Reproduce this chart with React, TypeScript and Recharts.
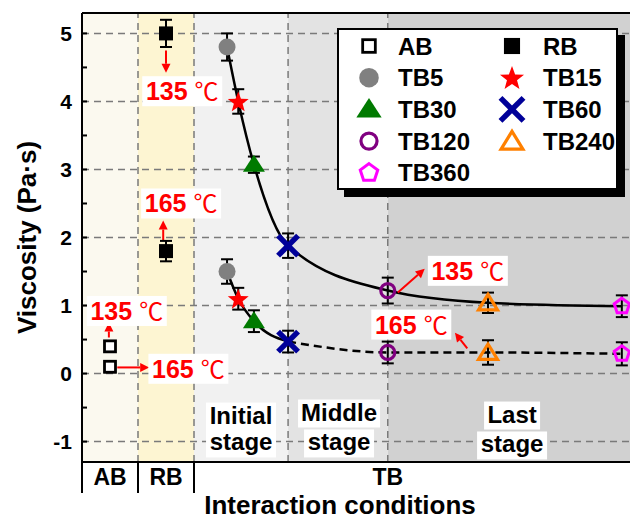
import {
  ComposedChart,
  ErrorBar,
  Line,
  ReferenceArea,
  ReferenceDot,
  ReferenceLine,
  Scatter,
  XAxis,
  YAxis,
} from "recharts";

const FONT = "Arial, 'Liberation Sans', Helvetica, sans-serif";
const CJK = "'Noto Sans CJK SC', 'DejaVu Sans', sans-serif";

// binder groups and where they sit along the interaction axis
const groups = ["AB", "RB", "TB5", "TB15", "TB30", "TB60", "TB120", "TB240", "TB360"];
const groupX = [0.5, 1.5, 2.59, 2.79, 3.07, 3.68, 5.46, 7.25, 9.64];

// viscosity (Pa·s) at 135 ℃ and 165 ℃ with standard deviations
const visc135 = [0.4, 5.0, 4.8, 4.0, 3.07, 1.88, 1.22, 1.04, 0.99];
const err135 = [0.05, 0.2, 0.2, 0.18, 0.12, 0.18, 0.19, 0.15, 0.16];
const visc165 = [0.1, 1.8, 1.5, 1.1, 0.77, 0.47, 0.31, 0.31, 0.29];
const err165 = [0.08, 0.15, 0.18, 0.16, 0.16, 0.16, 0.16, 0.18, 0.17];

const yTicks = [-1, -0.5, 0, 0.5, 1, 1.5, 2, 2.5, 3, 3.5, 4, 4.5, 5];
const yGrid = [-1, 0, 1, 2, 3, 4, 5];
const Y_MIN = -1.3;
const Y_MAX = 5.3;
const X_MAX = 10;

// bottom axis: AB | RB | TB blocks
const blockEdges = [0, 1, 2];
const blockLabels = ["AB", "RB", "TB"];
const blockLabelX = [0.5, 1.5, groupX[6]];

// TB stages split at TB60 and TB120
const stageEdges = [groupX[5], groupX[6]];

const COLORS: Record<string, string> = {
  AB: "#000",
  RB: "#000",
  TB5: "#808080",
  TB15: "#ff0000",
  TB30: "#007a00",
  TB60: "#000099",
  TB120: "#800080",
  TB240: "#ff8000",
  TB360: "#ff00ff",
};

const bands = [
  { x1: 0, x2: 1, fill: "#fbf9ef" },
  { x1: 1, x2: 2, fill: "#fdf5d2" },
  { x1: 2, x2: stageEdges[0], fill: "#f1f1f1" },
  { x1: stageEdges[0], x2: stageEdges[1], fill: "#e3e3e3" },
  { x1: stageEdges[1], x2: X_MAX, fill: "#d1d1d1" },
];

// temperature call-outs: tag centre and arrow in data units
const tags = [
  { temp: "135", tx: 1.79, ty: 4.15, from: [1.5, 4.75], to: [1.5, 4.42] },
  { temp: "165", tx: 1.77, ty: 2.5, from: [1.45, 1.96], to: [1.45, 2.25] },
  { temp: "135", tx: 0.8, ty: 0.92, from: [0.48, 0.53], to: [0.48, 0.75] },
  { temp: "165", tx: 1.9, ty: 0.07, from: [0.63, 0.09], to: [1.2, 0.09] },
  { temp: "135", tx: 6.89, ty: 1.51, from: [5.64, 1.19], to: [6.12, 1.54] },
  { temp: "165", tx: 5.88, ty: 0.72, from: [6.88, 0.37], to: [6.66, 0.6] },
];

const stageWords = [
  { text: "Initial", x: 2.84, y: -0.735, w: 70 },
  { text: "stage", x: 2.84, y: -1.13, w: 70 },
  { text: "Middle", x: 4.59, y: -0.69, w: 82 },
  { text: "stage", x: 4.59, y: -1.13, w: 70 },
  { text: "Last", x: 7.68, y: -0.72, w: 56 },
  { text: "stage", x: 7.68, y: -1.16, w: 70 },
];

function starPoints(cx: number, cy: number, ro: number, ri: number) {
  const pts: string[] = [];
  for (let i = 0; i < 10; i++) {
    const r = i % 2 === 0 ? ro : ri;
    const a = -Math.PI / 2 + (i * Math.PI) / 5;
    pts.push(`${cx + r * Math.cos(a)},${cy + r * Math.sin(a)}`);
  }
  return pts.join(" ");
}

function polyPoints(cx: number, cy: number, r: number, n: number) {
  const pts: string[] = [];
  for (let i = 0; i < n; i++) {
    const a = -Math.PI / 2 + (i * 2 * Math.PI) / n;
    pts.push(`${cx + r * Math.cos(a)},${cy + r * Math.sin(a)}`);
  }
  return pts.join(" ");
}

function Glyph({ kind, cx, cy, s = 1 }: { kind: string; cx: number; cy: number; s?: number }) {
  const c = COLORS[kind];
  switch (kind) {
    case "AB":
      return (
        <rect x={cx - 5.5 * s} y={cy - 5.5 * s} width={11 * s} height={11 * s}
          fill="#fff" stroke={c} strokeWidth={2.8} />
      );
    case "RB":
      return <rect x={cx - 7 * s} y={cy - 7 * s} width={14 * s} height={14 * s} fill={c} />;
    case "TB5":
      return <circle cx={cx} cy={cy} r={8.5 * s} fill={c} />;
    case "TB15":
      return <polygon points={starPoints(cx, cy + 1, 11 * s, 4.6 * s)} fill={c} />;
    case "TB30":
      return (
        <polygon
          points={`${cx},${cy - 10 * s} ${cx + 11 * s},${cy + 7 * s} ${cx - 11 * s},${cy + 7 * s}`}
          fill={c}
        />
      );
    case "TB60":
      return (
        <g stroke={c} strokeWidth={5.5}>
          <line x1={cx - 10 * s} y1={cy - 10 * s} x2={cx + 10 * s} y2={cy + 10 * s} />
          <line x1={cx - 10 * s} y1={cy + 10 * s} x2={cx + 10 * s} y2={cy - 10 * s} />
        </g>
      );
    case "TB120":
      return <circle cx={cx} cy={cy} r={7 * s} fill="none" stroke={c} strokeWidth={3.2} />;
    case "TB240":
      return (
        <polygon
          points={`${cx},${cy - 8.5 * s} ${cx + 9.5 * s},${cy + 7 * s} ${cx - 9.5 * s},${cy + 7 * s}`}
          fill="none" stroke={c} strokeWidth={3.2}
        />
      );
    case "TB360":
      return <polygon points={polyPoints(cx, cy, 8 * s, 5)} fill="none" stroke={c} strokeWidth={3} />;
    default:
      return null;
  }
}

function Arrow(props: any) {
  const { x1, y1, x2, y2 } = props;
  const ang = Math.atan2(y2 - y1, x2 - x1);
  const len = 9;
  const half = 4.5;
  const bx = x2 - len * Math.cos(ang);
  const by = y2 - len * Math.sin(ang);
  const px = -Math.sin(ang) * half;
  const py = Math.cos(ang) * half;
  return (
    <g>
      <line x1={x1} y1={y1} x2={bx} y2={by} stroke="#ff0000" strokeWidth={2} />
      <polygon points={`${x2},${y2} ${bx + px},${by + py} ${bx - px},${by - py}`} fill="#ff0000" />
    </g>
  );
}

function TempTag({ cx, cy, temp }: { cx: number; cy: number; temp: string }) {
  return (
    <g>
      <rect x={cx - 40} y={cy - 15} width={80} height={30} fill="#fff" />
      <text x={cx} y={cy + 9} textAnchor="middle" fill="#ff0000">
        <tspan fontFamily={FONT} fontWeight="bold" fontSize={25}>{temp}</tspan>
        <tspan fontFamily={CJK} fontSize={24} dx={7}>℃</tspan>
      </text>
    </g>
  );
}

function StageWord({ cx, cy, text, w }: { cx: number; cy: number; text: string; w: number }) {
  return (
    <g>
      <rect x={cx - w / 2} y={cy - 21} width={w} height={28} fill="#fff" />
      <text x={cx} y={cy} textAnchor="middle" fontFamily={FONT} fontWeight="bold" fontSize={24} fill="#000">
        {text}
      </text>
    </g>
  );
}

function YTick(props: any) {
  const { x, y, payload } = props;
  const axisX = x + 10;
  const major = Number.isInteger(payload.value);
  return (
    <g>
      <line x1={axisX} y1={y} x2={axisX + 5} y2={y} stroke="#000" strokeWidth={2} />
      {major && (
        <text x={x} y={y + 7.5} textAnchor="end" fontFamily={FONT} fontWeight="bold" fontSize={21} fill="#000">
          {payload.value}
        </text>
      )}
    </g>
  );
}

function XTick(props: any) {
  const { x, y, payload } = props;
  const v = payload.value;
  if (blockEdges.includes(v)) {
    return <line x1={x} y1={y} x2={x} y2={y + 31} stroke="#000" strokeWidth={2} />;
  }
  const i = blockLabelX.findIndex((bx) => Math.abs(bx - v) < 1e-6);
  return (
    <text x={x} y={y + 23} textAnchor="middle" fontFamily={FONT} fontWeight="bold" fontSize={23} fill="#000">
      {blockLabels[i]}
    </text>
  );
}

function Legend() {
  const rows: string[][] = [];
  for (let i = 0; i < groups.length; i += 2) rows.push(groups.slice(i, i + 2));
  return (
    <svg width={300} height={180} style={{ position: "absolute", left: 337, top: 28 }}>
      <rect x={7} y={7} width={281} height={162} fill="#000" />
      <rect x={1} y={1} width={279} height={160} fill="#fff" stroke="#000" strokeWidth={2} />
      {rows.map((row, r) =>
        row.map((g, c) => {
          const cy = 18 + r * 31.7;
          return (
            <g key={g}>
              <Glyph kind={g} cx={32 + c * 143} cy={cy} s={1.15} />
              <text x={61 + c * 145} y={cy + 8.5} fontFamily={FONT} fontWeight="bold" fontSize={24} fill="#000">
                {g}
              </text>
            </g>
          );
        })
      )}
    </svg>
  );
}

export default function App() {
  const upper = groupX.slice(2).map((x, k) => ({ x, y: visc135[k + 2] }));
  const lowerEarly = groupX.slice(2, 6).map((x, k) => ({ x, y: visc165[k + 2] }));
  const lowerLate = groupX.slice(5).map((x, k) => ({ x, y: visc165[k + 5] }));

  return (
    <div
      style={{
        position: "fixed",
        left: 0,
        top: 0,
        width: 630,
        height: 520,
        overflow: "hidden",
        background: "#fff",
      }}
    >
      <ComposedChart width={650} height={520} margin={{ top: 13, right: 8, bottom: 0, left: 0 }}>
        {bands.map((b) => (
          <ReferenceArea key={b.x1} x1={b.x1} x2={b.x2} y1={Y_MIN} y2={Y_MAX} fill={b.fill} fillOpacity={1} stroke="none" />
        ))}
        {yGrid.map((v) => (
          <ReferenceLine key={`gy${v}`} y={v} stroke="#7a7a7a" strokeWidth={1.5} strokeDasharray="7 5" />
        ))}
        {[1, 2, ...stageEdges].map((v) => (
          <ReferenceLine key={`gx${v}`} x={v} stroke="#7a7a7a" strokeWidth={1.5} strokeDasharray="7 5" />
        ))}
        <ReferenceLine y={Y_MAX} stroke="#000" strokeWidth={2} />

        <XAxis
          type="number"
          dataKey="x"
          domain={[0, X_MAX]}
          ticks={[0, 0.5, 1, 1.5, 2, groupX[6]]}
          interval={0}
          allowDataOverflow
          height={58}
          axisLine={{ stroke: "#000", strokeWidth: 2 }}
          tickLine={false}
          tickSize={0}
          tickMargin={0}
          tick={XTick}
          label={{
            content: (p: any) => (
              <text x={p.viewBox.x + 258} y={p.viewBox.y + 52} textAnchor="middle"
                fontFamily={FONT} fontWeight="bold" fontSize={26} fill="#000">
                Interaction conditions
              </text>
            ),
          }}
        />
        <YAxis
          type="number"
          dataKey="y"
          domain={[Y_MIN, Y_MAX]}
          ticks={yTicks}
          interval={0}
          allowDataOverflow
          width={82}
          axisLine={{ stroke: "#000", strokeWidth: 2 }}
          tickLine={false}
          tickSize={5}
          tickMargin={5}
          tick={YTick}
          label={{
            content: (p: any) => {
              const tx = p.viewBox.x + 27;
              const ty = p.viewBox.y + p.viewBox.height / 2;
              return (
                <text x={tx} y={ty} transform={`rotate(-90 ${tx} ${ty})`} textAnchor="middle"
                  dominantBaseline="central" fontFamily={FONT} fontWeight="bold" fontSize={26} fill="#000">
                  Viscosity (Pa·s)
                </text>
              );
            },
          }}
        />

        <Line data={upper} dataKey="y" type="monotone" stroke="#000" strokeWidth={2.5} dot={false} isAnimationActive={false} />
        <Line data={lowerEarly} dataKey="y" type="monotone" stroke="#000" strokeWidth={2.5} dot={false} isAnimationActive={false} />
        <Line data={lowerLate} dataKey="y" type="monotone" stroke="#000" strokeWidth={2.5} strokeDasharray="8 5" dot={false} isAnimationActive={false} />

        {tags.map((t, i) => (
          <ReferenceLine
            key={`arrow${i}`}
            segment={[{ x: t.from[0], y: t.from[1] }, { x: t.to[0], y: t.to[1] }]}
            shape={Arrow}
          />
        ))}

        {groups.map((g, i) => (
          <Scatter
            key={g}
            name={g}
            data={[
              { x: groupX[i], y: visc135[i], err: err135[i] },
              { x: groupX[i], y: visc165[i], err: err165[i] },
            ]}
            dataKey="y"
            isAnimationActive={false}
            shape={(p: any) => <Glyph kind={g} cx={p.cx} cy={p.cy} />}
          >
            <ErrorBar dataKey="err" direction="y" width={6} stroke="#000" strokeWidth={2} />
          </Scatter>
        ))}

        {tags.map((t, i) => (
          <ReferenceDot
            key={`tag${i}`}
            x={t.tx}
            y={t.ty}
            r={0}
            shape={(p: any) => <TempTag cx={p.cx} cy={p.cy} temp={t.temp} />}
          />
        ))}
        {stageWords.map((s, i) => (
          <ReferenceDot
            key={`stage${i}`}
            x={s.x}
            y={s.y}
            r={0}
            shape={(p: any) => <StageWord cx={p.cx} cy={p.cy} text={s.text} w={s.w} />}
          />
        ))}
      </ComposedChart>
      <Legend />
    </div>
  );
}
